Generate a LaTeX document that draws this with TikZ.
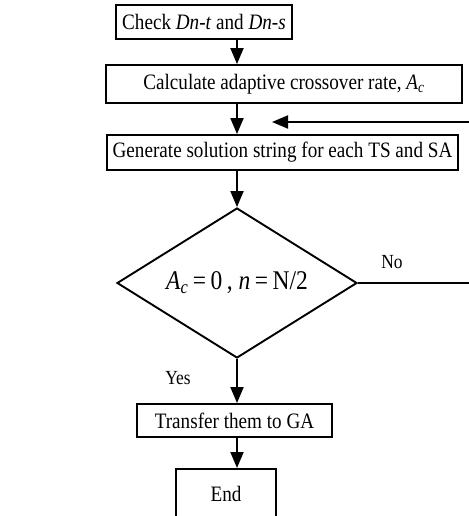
\documentclass[tikz,border=0pt]{standalone}
\usepackage{fontspec}
\setmainfont[FakeStretch=0.87]{Liberation Serif}
\usetikzlibrary{shapes.geometric,arrows.meta}
\begin{document}
\begin{tikzpicture}[x=1pt,y=-1pt,
  box/.style={draw,line width=1.9pt,rectangle,inner sep=0pt,font=\fontsize{22}{24}\selectfont},
  dia/.style={draw,line width=1.9pt,diamond,inner sep=0pt,font=\fontsize{27}{29}\selectfont},
  arr/.style={line width=1.9pt,-{Triangle[length=16pt,width=13pt]}},
  lab/.style={font=\fontsize{20}{22}\selectfont}]
\useasboundingbox (0,0) rectangle (468,516);
\coordinate (ax) at (237,0);
\node[box,minimum width=176pt,minimum height=34pt] (b1) at (204,22) {Check \textit{Dn-t} and \textit{Dn-s}};
\node[box,minimum width=356pt,minimum height=38pt] (b2) at (284,84) {Calculate adaptive crossover rate, \textit{A}\textsubscript{\textit{c}}};
\node[box,minimum width=351pt,minimum height=35pt] (b3) at (282.5,152.5) {Generate solution string for each TS and SA};
\node[dia,minimum width=240pt,minimum height=150pt] (d) at (237,283) {\makebox[0pt]{\textit{A}\textsubscript{\textit{c}}\,=\,0\,, \textit{n}\,=\,N/2}};
\node[box,minimum width=195pt,minimum height=33pt] (b4) at (234.5,420.5) {Transfer them to GA};
\node[box,minimum width=100pt,minimum height=54pt,anchor=north] (b5) at (226,468) {\raisebox{4pt}{End}};
\node[lab] (no) at (392,262) {No};
\node[lab] (yes) at (178,378) {Yes};
\coordinate (loop) at (272,122);
\coordinate (cr) at (474,0);
\draw[arr] (ax |- b1.south) -- (ax |- b2.north);
\draw[arr] (ax |- b2.south) -- (ax |- b3.north);
\draw[arr] (ax |- b3.south) -- (d.north);
\draw[arr] (d.south) -- (ax |- b4.north);
\draw[arr] (ax |- b4.south) -- (ax |- b5.north);
\draw[arr] (d.east) -- (cr |- d.east) -- (cr |- loop) -- (loop);
\end{tikzpicture}
\end{document}
